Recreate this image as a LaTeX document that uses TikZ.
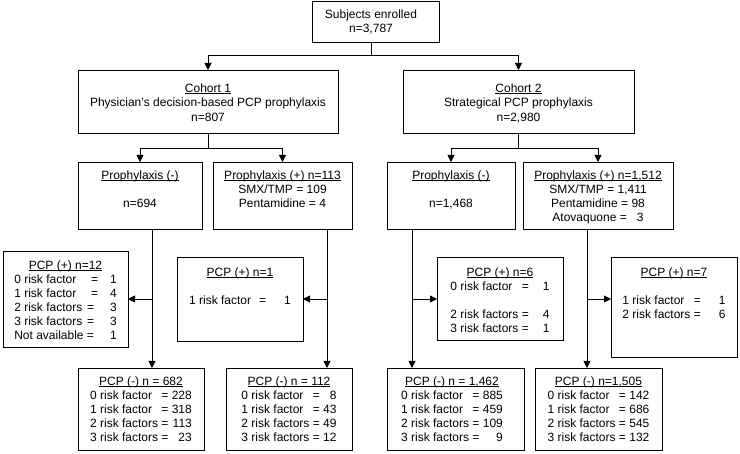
\documentclass[tikz,border=0pt]{standalone}
\usepackage{fontspec}
\setmainfont{Liberation Sans}
\usetikzlibrary{arrows.meta}
\newsavebox\ulbox
\newcommand{\myul}[1]{\sbox\ulbox{#1}\rlap{\rule[-1.6pt]{\wd\ulbox}{0.7pt}}\usebox\ulbox}
\begin{document}
\begin{tikzpicture}[x=1pt,y=-1pt,
  box/.style={draw, line width=0.8pt, inner sep=0pt, outer sep=0pt},
  txt/.style={inner sep=0pt, anchor=base, font=\fontsize{12}{14}\selectfont},
  txtc/.style={inner sep=0pt, anchor=base, font=\fontsize{12}{14.5}\selectfont},
  ln/.style={line width=0.8pt},
  arr/.style={line width=0.8pt, -{Triangle[length=7pt,width=7pt]}}]
\useasboundingbox (0,0) rectangle (740,454);

% boxes
\node[box, minimum width=127pt, minimum height=41pt] (top) at (375.5,21.5) {};
\node[box, minimum width=260pt, minimum height=63pt] (c1) at (208,101.5) {};
\node[box, minimum width=231pt, minimum height=63pt] (c2) at (518.5,101.5) {};
\node[box, minimum width=124pt, minimum height=67pt] (pa) at (140,195.5) {};
\node[box, minimum width=139pt, minimum height=67pt] (pb) at (282.5,195.5) {};
\node[box, minimum width=128pt, minimum height=67pt] (pc) at (451,195.5) {};
\node[box, minimum width=150pt, minimum height=67pt] (pd) at (598,195.5) {};
\node[box, minimum width=125pt, minimum height=96pt] (p12) at (65.5,299) {};
\node[box, minimum width=126pt, minimum height=84pt] (p1) at (240,299) {};
\node[box, minimum width=126pt, minimum height=83pt] (p6) at (500,298.5) {};
\node[box, minimum width=126pt, minimum height=100pt] (p7) at (674,307) {};
\node[box, minimum width=126pt, minimum height=82pt] (m1) at (141,409) {};
\node[box, minimum width=126pt, minimum height=82pt] (m2) at (289,409) {};
\node[box, minimum width=137pt, minimum height=82pt] (m3) at (455.5,409) {};
\node[box, minimum width=127pt, minimum height=82pt] (m4) at (598.5,409) {};

% texts
\node[txt] (topt) at (371,18.3) {\begin{tabular}[t]{@{}c@{}}Subjects enrolled\\ n=3,787\end{tabular}};
\node[txtc] (c1t) at (208,92.3) {\begin{tabular}[t]{@{}c@{}}\myul{Cohort 1}\\ Physician’s decision-based PCP prophylaxis\\ n=807\end{tabular}};
\node[txtc] (c2t) at (518.5,92.3) {\begin{tabular}[t]{@{}c@{}}\myul{Cohort 2}\\ Strategical PCP prophylaxis\\ n=2,980\end{tabular}};
\node[txt] (pat) at (140,179.3) {\begin{tabular}[t]{@{}c@{}}\myul{Prophylaxis (-)}\\ \\ n=694\end{tabular}};
\node[txt] (pbt) at (282.5,179.3) {\begin{tabular}[t]{@{}c@{}}\myul{Prophylaxis (+) n=113}\\ SMX/TMP = 109\\ Pentamidine = 4\end{tabular}};
\node[txt] (pct) at (451,179.3) {\begin{tabular}[t]{@{}c@{}}\myul{Prophylaxis (-)}\\ \\ n=1,468\end{tabular}};
\node[txt] (pdt) at (598,179.3) {\begin{tabular}[t]{@{}c@{}}\myul{Prophylaxis (+) n=1,512}\\ SMX/TMP = 1,411\\ Pentamidine = 98\\ Atovaquone =\ \ \ 3\end{tabular}};

\node[txt] (p12t) at (65.5,269.3) {\begin{tabular}[t]{@{}l@{\ }l@{\hspace{12pt}}r@{}}
\multicolumn{3}{@{}c@{}}{\myul{PCP (+) n=12}}\\
0 risk factor & \hspace{4pt}= & 1\\
1 risk factor & \hspace{4pt}= & 4\\
2 risk factors & = & 3\\
3 risk factors & = & 3\\
Not available & = & 1\end{tabular}};
\node[txt] (p1t) at (240,276.3) {\begin{tabular}[t]{@{}l@{\hspace{8pt}}l@{\hspace{18pt}}r@{}}
\multicolumn{3}{@{}c@{}}{\myul{PCP (+) n=1}}\\
 & & \\
1 risk factor & = & 1\end{tabular}};
\node[txt] (p6t) at (500,276.3) {\begin{tabular}[t]{@{}l@{\ }l@{\hspace{14pt}}r@{}}
\multicolumn{3}{@{}c@{}}{\myul{PCP (+) n=6}}\\
0 risk factor & = & 1\\
 & & \\
2 risk factors & = & 4\\
3 risk factors & = & 1\end{tabular}};
\node[txt] (p7t) at (674,276.3) {\begin{tabular}[t]{@{}l@{\ }l@{\hspace{18pt}}r@{}}
\multicolumn{3}{@{}c@{}}{\myul{PCP (+) n=7}}\\
 & & \\
1 risk factor & = & 1\\
2 risk factors & = & 6\end{tabular}};

\node[txt] (m1t) at (141,385.3) {\begin{tabular}[t]{@{}l@{\ }l@{\ }r@{}}
\multicolumn{3}{@{}c@{}}{\myul{PCP (-) n = 682}}\\
0 risk factor & = & 228\\
1 risk factor & = & 318\\
2 risk factors & = & 113\\
3 risk factors & = & 23\end{tabular}};
\node[txt] (m2t) at (289,385.3) {\begin{tabular}[t]{@{}l@{\ }l@{\ }r@{}}
\multicolumn{3}{@{}c@{}}{\myul{PCP (-) n = 112}}\\
0 risk factor & = & 8\\
1 risk factor & = & 43\\
2 risk factors & = & 49\\
3 risk factors & = & 12\end{tabular}};
\node[txt] (m3t) at (452,385.3) {\begin{tabular}[t]{@{}l@{\ }l@{\ }r@{}}
\multicolumn{3}{@{}c@{}}{\myul{PCP (-) n = 1,462}}\\
0 risk factor & = & 885\\
1 risk factor & = & 459\\
2 risk factors & = & 109\\
3 risk factors & = & 9\end{tabular}};
\node[txt] (m4t) at (598.5,385.3) {\begin{tabular}[t]{@{}l@{\ }l@{\ }r@{}}
\multicolumn{3}{@{}c@{}}{\myul{PCP (-) n=1,505}}\\
0 risk factor & = & 142\\
1 risk factor & = & 686\\
2 risk factors & = & 545\\
3 risk factors & = & 132\end{tabular}};

% connectors
\coordinate (j0) at (371,55);
\draw[ln] (top.south -| j0) -- (j0);
\draw[arr] (j0) -| (c1.north);
\draw[arr] (j0) -| (c2.north);
\coordinate (j1) at (208,148);
\draw[ln] (c1.south) -- (j1);
\draw[arr] (j1) -| (pa.north);
\draw[arr] (j1) -| (pb.north);
\coordinate (j2) at (518.5,148);
\draw[ln] (c2.south) -- (j2);
\draw[arr] (j2) -| (pc.north);
\draw[arr] (j2) -| (pd.north);

\coordinate (v1) at (152,299);
\coordinate (v2) at (327,299);
\coordinate (v3) at (412,299);
\coordinate (v4) at (587,299);
\draw[arr] (pa.south -| v1) -- (m1.north -| v1);
\draw[arr] (pb.south -| v2) -- (m2.north -| v2);
\draw[arr] (pc.south -| v3) -- (m3.north -| v3);
\draw[arr] (pd.south -| v4) -- (m4.north -| v4);
\draw[arr] (v1) -- (p12.east |- v1);
\draw[arr] (v2) -- (p1.east |- v2);
\draw[arr] (v3) -- (p6.west |- v3);
\draw[arr] (v4) -- (p7.west |- v4);
\end{tikzpicture}
\end{document}
